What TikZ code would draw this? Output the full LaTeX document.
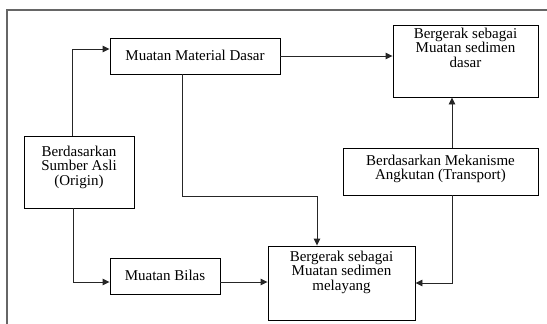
\documentclass[tikz,border=0pt]{standalone}
\usepackage{fontspec}
\setmainfont{Liberation Serif}
\usetikzlibrary{arrows.meta,calc}
\begin{document}
\begin{tikzpicture}[x=1pt,y=-1pt,
 box/.style={draw=black,line width=0.9pt,inner sep=0pt},
 lbl/.style={inner sep=0pt,align=center,font=\fontsize{15}{14.5}\selectfont},
 conn/.style={draw=black!85,line width=0.9pt,-{Triangle[length=7pt,width=6.5pt]}},
 frameline/.style={draw=black!60,line width=1.6pt}]
\useasboundingbox (0,0) rectangle (547,324);
\draw[frameline] (7,324) -- (7,10) -- (547,10);
% boxes
\node[box,minimum width=170pt,minimum height=36pt] (mmd) at (195,56) {};
\node[box,minimum width=145pt,minimum height=72pt] (dasar) at (465.5,61) {};
\node[box,minimum width=110pt,minimum height=72pt] (orig) at (79,172) {};
\node[box,minimum width=195pt,minimum height=47pt] (mek) at (440.5,171.5) {};
\node[box,minimum width=110pt,minimum height=36pt] (bilas) at (165,276) {};
\node[box,minimum width=147pt,minimum height=74pt] (mel) at (341.5,283) {};
% labels
\node[lbl] (tmmd) at (195,55) {Muatan Material Dasar};
\node[lbl] (tdasar) at (465.5,47.5) {Bergerak sebagai\\Muatan sedimen\\dasar};
\node[lbl] (torig) at (79,167) {Berdasarkan\\Sumber Asli\\(Origin)};
\node[lbl] (tmek) at (440.5,169) {Berdasarkan Mekanisme\\Angkutan (Transport)};
\node[lbl] (tbilas) at (165,275) {Muatan Bilas};
\node[lbl] (tmel) at (341.5,272) {Bergerak sebagai\\Muatan sedimen\\melayang};
% connectors
\draw[conn] (orig.north -| 72,0) |- (mmd.west |- 0,49);
\draw[conn] (mmd.east) -- (dasar.west |- mmd.east);
\draw[conn] (mmd.south -| 182,0) -- (182,196) -| (mel.north -| 317,0);
\draw[conn] (orig.south -| 73,0) |- (bilas.west |- 0,282);
\draw[conn] (bilas.east |- 0,282) -- (mel.west |- 0,282);
\draw[conn] (mek.south -| 452,0) |- (mel.east |- 0,283);
\draw[conn] (mek.north -| 452,0) -- (dasar.south -| 452,0);
\end{tikzpicture}
\end{document}
